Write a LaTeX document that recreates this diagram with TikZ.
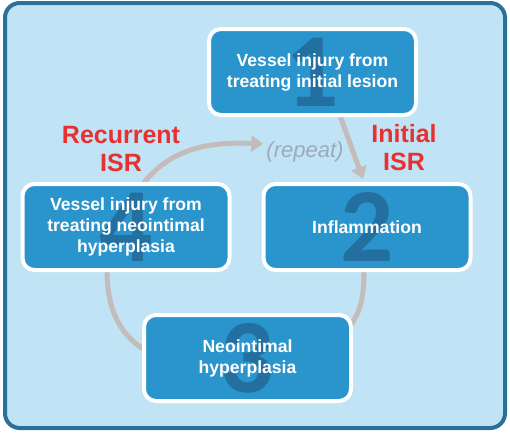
\documentclass[tikz,border=0pt]{standalone}
\usepackage{fontspec}
\setmainfont{Liberation Sans}
\newfontfamily\numfont{Carlito}
\usetikzlibrary{arrows.meta,calc}
\definecolor{bg}{HTML}{C0E4F6}
\definecolor{frameblue}{HTML}{2B6F9B}
\definecolor{boxblue}{HTML}{2A94CC}
\definecolor{numblue}{HTML}{2370A0}
\definecolor{arrowgrey}{HTML}{C4BCBA}
\definecolor{isrred}{HTML}{E8312F}
\definecolor{repgrey}{HTML}{9AAABA}
\tikzset{
  stepbox/.style={draw=white, line width=3pt, fill=boxblue, rounded corners=9pt,
    minimum width=155.25pt, minimum height=64.5pt, inner sep=0pt},
  bignum/.style={text=numblue, font=\numfont\bfseries\fontsize{79}{79}\selectfont, inner sep=0pt},
  boxtext/.style={text=white, font=\bfseries\fontsize{13.2}{15.75}\selectfont, align=center, inner sep=0pt},
  isr/.style={text=isrred, font=\bfseries\fontsize{18.75}{21}\selectfont, align=center, inner sep=0pt},
  conn/.style={draw=arrowgrey, line width=3.75pt},
  tipped/.style={-{Triangle[width=12pt,length=9pt]}}
}
\begin{document}
\begin{tikzpicture}[x=0.75pt, y=-0.75pt]
\useasboundingbox (0,0) rectangle (510,432);
\draw[draw=frameblue, line width=3pt, fill=bg, rounded corners=11pt] (5,3) rectangle (505,428);

% box shapes (positions)
\path (312.5,72) coordinate (c1) (367,227) coordinate (c2) (247.5,358) coordinate (c3) (126,227) coordinate (c4);
\node[stepbox, fill=none, draw=none] (b1) at (c1) {};
\node[stepbox, fill=none, draw=none] (b2) at (c2) {};
\node[stepbox, fill=none, draw=none] (b3) at (c3) {};
\node[stepbox, fill=none, draw=none] (b4) at (c4) {};

% connectors
\draw[conn, tipped] ($(b1.south)+(28,0)$) -- ($(b2.north)+(-4,-3)$);
\draw[conn] ($(b2.south)+(-3,-2)$) .. controls ($(b2.south)+(-3,28)$) and ($(b2.south)+(-7,42)$) .. ($(b3.east)+(-6,-28)$);
\draw[conn] ($(b4.south)+(-19,-2)$) .. controls ($(b4.south)+(-19,38)$) and ($(b4.south)+(-6,64)$) .. ($(b3.west)+(6,-6)$);
\node[text=repgrey, font=\itshape\fontsize{16.5}{20}\selectfont, inner sep=0pt] (rep) at (305,152) {(repeat)};
\draw[conn, tipped] ($(b4.north)+(14,6)$) .. controls ($(b4.north)+(39,-29)$) and ($(b4.north)+(74,-41)$) .. ($(rep.west)+(-3,-8)$);

% boxes
\node[stepbox] (s1) at (c1) {};
\node[stepbox] (s2) at (c2) {};
\node[stepbox] (s3) at (c3) {};
\node[stepbox] (s4) at (c4) {};

% big numbers
\node[bignum] (n1) at (c1) {1};
\node[bignum] (n2) at (c2) {2};
\node[bignum] (n3) at (c3) {3};
\node[bignum] (n4) at (c4) {4};

% box texts
\node[boxtext] (t1) at (c1) {Vessel injury from\\treating initial lesion};
\node[boxtext] (t2) at (c2) {Inflammation};
\node[boxtext] (t3) at (c3) {Neointimal\\hyperplasia};
\node[boxtext] (t4) at (c4) {Vessel injury from\\treating neointimal\\hyperplasia};

% labels
\node[isr] (lr) at (121,149) {Recurrent\\ISR};
\node[isr] (li) at (404,148) {Initial\\ISR};
\end{tikzpicture}
\end{document}
